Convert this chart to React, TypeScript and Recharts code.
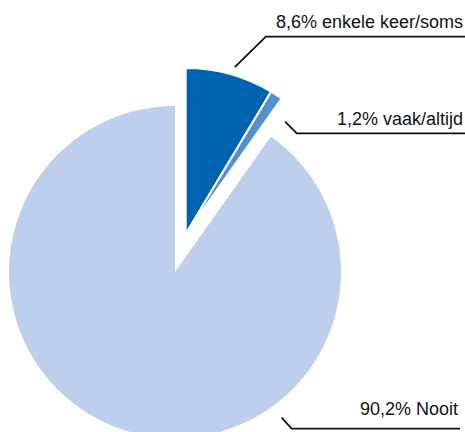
import React from "react";
import { PieChart, Pie, Cell } from "recharts";

const categories = ["enkele keer/soms", "vaak/altijd", "Nooit"];
const values = [8.6, 1.2, 90.2];
const valueLabels = ["8,6%", "1,2%", "90,2%"];
const colors = ["#0063AF", "#5590CE", "#BDCFEC"];

const data = categories.map((name, i) => ({ name, value: values[i], label: valueLabels[i] }));

// label layout: anchor angle (deg clockwise from 12 o'clock) & radius from slice centre
const labelLayout = [
  { angle: 16.4, radius: 174, elbowDx: 31, elbowDy: -30.5, endX: 465, textX: 463, textDy: -9 },
  { angle: 41.5, radius: 150, elbowDx: 11.7, elbowDy: 11.7, endX: 465, textX: 463, textDy: -8.5 },
  { angle: 143.8, radius: 180.5, elbowDx: 10, elbowDy: 11, endX: 460, textX: 458, textDy: -14 },
];

const W = 465;
const H = 432;
const CX = 175;
const CY = 272;
const R = 166;
const EXPLODE_DX = 10.7;
const EXPLODE_DY = -38;

const makeLabel = (show: number[]) => (props: any) => {
  const { cx, cy, index } = props;
  if (!show.includes(index)) return null;
  const l = labelLayout[index];
  const a = (l.angle * Math.PI) / 180;
  const sx = cx + l.radius * Math.sin(a);
  const sy = cy - l.radius * Math.cos(a);
  const ex = sx + l.elbowDx;
  const ey = sy + l.elbowDy;
  return (
    <g key={`lbl-${index}`}>
      <polyline
        points={`${sx},${sy} ${ex},${ey} ${l.endX},${ey}`}
        fill="none"
        stroke="#111"
        strokeWidth={1.8}
      />
      <text
        x={l.textX}
        y={ey + l.textDy}
        textAnchor="end"
        fontFamily="'Liberation Sans', Arial, sans-serif"
        fontSize={18}
        fill="#111"
      >
        {`${data[index].label} ${data[index].name}`}
      </text>
    </g>
  );
};

export default function App() {
  return (
    <div style={{ width: W, height: H, background: "#fff" }}>
      <style>{`body{margin:0}`}</style>
      <PieChart width={W} height={H} margin={{ top: 0, right: 0, bottom: 0, left: 0 }}>
        <Pie
          data={data}
          dataKey="value"
          cx={CX}
          cy={CY}
          outerRadius={R}
          startAngle={90}
          endAngle={-270}
          isAnimationActive={false}
          labelLine={false}
          label={makeLabel([2])}
        >
          {data.map((d, i) => (
            <Cell key={d.name} fill={i === 2 ? colors[i] : "transparent"} stroke="none" />
          ))}
        </Pie>
        <Pie
          data={data}
          dataKey="value"
          cx={CX + EXPLODE_DX}
          cy={CY + EXPLODE_DY}
          outerRadius={R}
          startAngle={90}
          endAngle={-270}
          isAnimationActive={false}
          labelLine={false}
          label={makeLabel([0, 1])}
        >
          {data.map((d, i) => (
            <Cell
              key={d.name}
              fill={i === 2 ? "transparent" : colors[i]}
              stroke={i === 2 ? "none" : "#fff"}
              strokeWidth={i === 2 ? 0 : 2}
            />
          ))}
        </Pie>
      </PieChart>
    </div>
  );
}
